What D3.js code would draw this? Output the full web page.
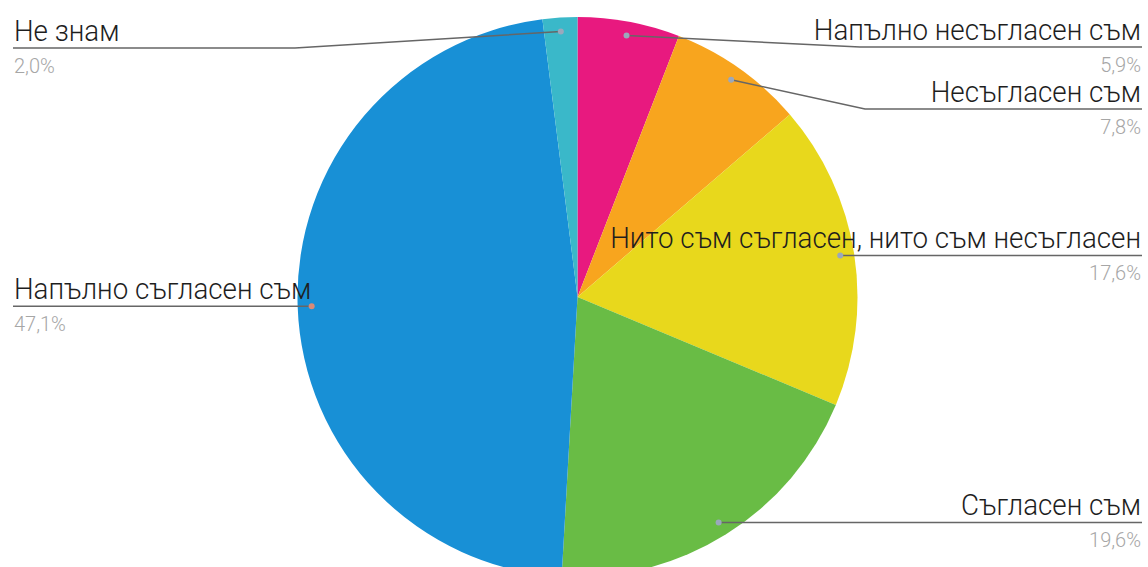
<!DOCTYPE html>
<html>
<head>
<meta charset="utf-8">
<script src="https://cdn.jsdelivr.net/npm/d3@7/dist/d3.min.js"></script>
<style>
  html, body { margin: 0; padding: 0; background: #ffffff; }
  svg { display: block; font-family: Roboto, "Noto Sans", sans-serif; }
</style>
</head>
<body>
<svg id="chart" width="1148" height="567"></svg>
<script>
// Survey answers, clockwise from 12 o'clock
const categories = [
  "Напълно несъгласен съм",
  "Несъгласен съм",
  "Нито съм съгласен, нито съм несъгласен",
  "Съгласен съм",
  "Напълно съгласен съм",
  "Не знам"
];
const values = [5.9, 7.8, 17.6, 19.6, 47.1, 2.0];
const percentLabels = ["5,9%", "7,8%", "17,6%", "19,6%", "47,1%", "2,0%"];
const colors = ["#e8197f", "#f8a51e", "#e8d81c", "#69bc45", "#1890d6", "#3ab8c9"];

// Label placement: side of the chart, leader line height and elbow x (null = straight)
const labelSide = ["right", "right", "right", "right", "left", "left"];
const leaderY = [47, 109, null, null, null, 48];
const elbowX = [860, 865, null, null, null, 295];

const W = 1148, H = 567;
const cx = 577.5, cy = 297, R = 280;
const rightEdge = 1142, leftEdge = 13;

const svg = d3.select("#chart");

const data = categories.map((c, i) => ({ cat: c, value: values[i], pct: percentLabels[i], color: colors[i], i }));

const pie = d3.pie().sort(null).value(d => d.value);
const arcs = pie(data);
const arc = d3.arc().innerRadius(0).outerRadius(R);
const dotArc = d3.arc().innerRadius(R * 0.95).outerRadius(R * 0.95);

const g = svg.append("g").attr("transform", `translate(${cx},${cy})`);
g.selectAll("path.slice")
  .data(arcs)
  .join("path")
  .attr("class", "slice")
  .attr("d", arc)
  .attr("fill", d => d.data.color);

// Leader lines, underlines and labels
const labels = svg.append("g");
arcs.forEach(a => {
  const i = a.data.i;
  const [dx, dy] = dotArc.centroid(a);
  const px = cx + dx, py = cy + dy;
  const ly = leaderY[i] == null ? py : leaderY[i];
  const side = labelSide[i];
  const endX = side === "right" ? rightEdge : leftEdge;
  const pts = [[px, py]];
  if (elbowX[i] != null) pts.push([elbowX[i], ly]);
  else pts.push([px, ly]);
  pts.push([endX, ly]);

  labels.append("path")
    .attr("d", d3.line()(pts))
    .attr("fill", "none")
    .attr("stroke", "#666")
    .attr("stroke-width", 1.5);

  labels.append("circle")
    .attr("cx", px).attr("cy", py).attr("r", 3)
    .attr("fill", i === 4 ? "#d98a78" : "#9aa8bc");

  const anchor = side === "right" ? "end" : "start";
  const tx = side === "right" ? rightEdge - 1 : leftEdge + 1;
  // category name: slightly condensed, tall type
  labels.append("text")
    .attr("transform", `translate(${tx},${ly - 7}) scale(0.94,1)`)
    .attr("text-anchor", anchor)
    .attr("font-size", 29.5)
    .attr("font-weight", 300)
    .attr("fill", "#1e1e1e")
    .text(a.data.cat);
  labels.append("text")
    .attr("x", tx).attr("y", ly + 25)
    .attr("text-anchor", anchor)
    .attr("font-size", 20)
    .attr("font-weight", 300)
    .attr("fill", "#a6a6a6")
    .text(a.data.pct);
});
</script>
</body>
</html>
